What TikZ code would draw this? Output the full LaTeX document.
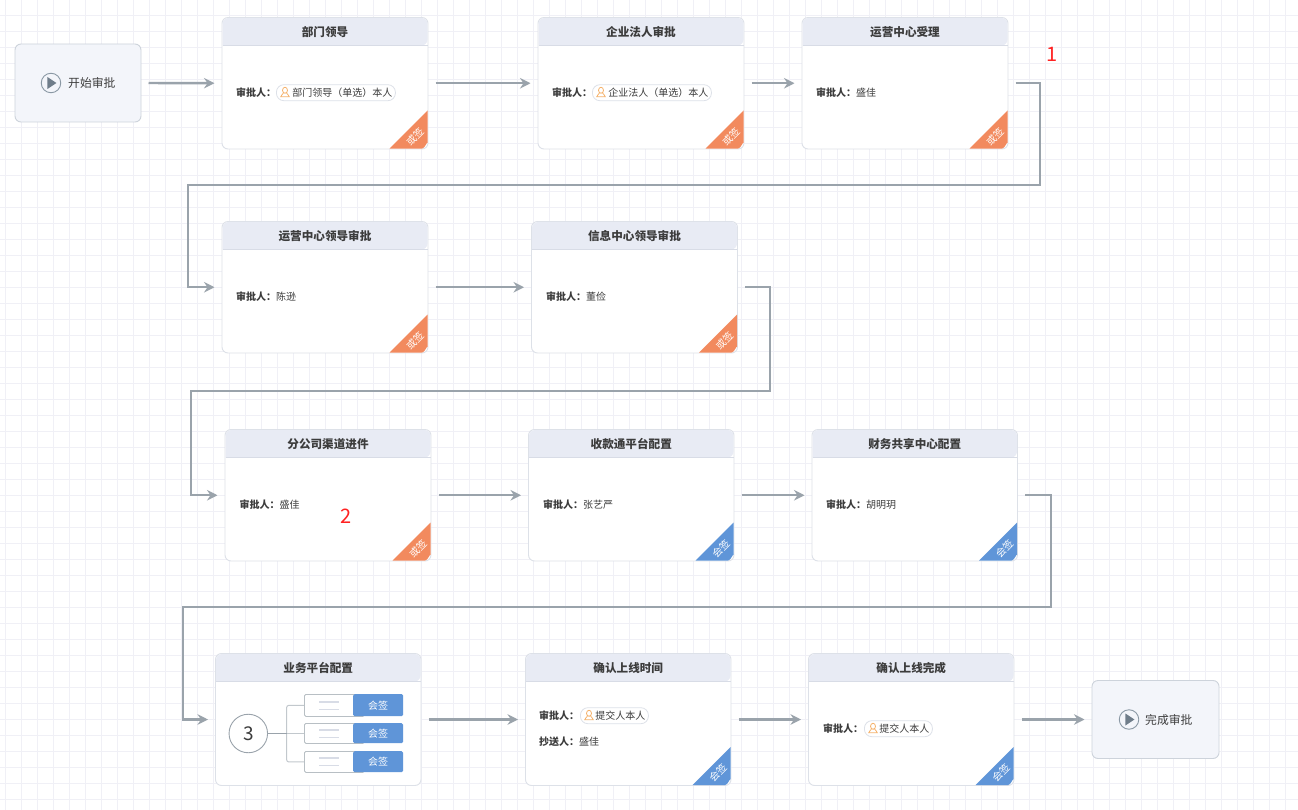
\documentclass[tikz,border=0pt]{standalone}
\usepackage{fontspec}
\setmainfont{Noto Sans CJK SC}
\usetikzlibrary{arrows.meta,calc}
\definecolor{gridc}{HTML}{F0F0F6}
\definecolor{flowc}{HTML}{9AA3AB}
\definecolor{cardb}{HTML}{DDE1E8}
\definecolor{hdrc}{HTML}{E8EBF4}
\definecolor{hdrl}{HTML}{D8DCE6}
\definecolor{txtc}{HTML}{3C3C3C}
\definecolor{orc}{HTML}{F28A5E}
\definecolor{bluc}{HTML}{5F95D8}
\definecolor{stc}{HTML}{F3F5FA}
\definecolor{stb}{HTML}{CDD3DB}
\definecolor{pers}{HTML}{F5B26B}
\definecolor{iconc}{HTML}{8A98A4}
\definecolor{icond}{HTML}{6F7D8A}
\definecolor{redc}{HTML}{FF2222}
\newcommand{\fs}[1]{\fontsize{#1}{#1}\selectfont}
\tikzset{
  gridline/.style={gridc,line width=0.9pt},
  flow/.style={flowc,line width=2.4pt,shorten <=7.5pt,shorten >=7.5pt,miter limit=10,-{Stealth[length=10.5pt,width=10.5pt,inset=3.5pt]}},
  cardbox/.style={draw=cardb,fill=white,line width=0.95pt,rounded corners=6pt,anchor=north west,inner sep=0pt,outer sep=0pt},
  cardtitle/.style={text=txtc,font=\fs{11.6}\bfseries,inner sep=0pt},
  lab/.style={text=txtc,font=\fs{10}\bfseries,anchor=west,inner sep=0pt},
  val/.style={text=txtc,font=\fs{10},anchor=west,inner sep=0pt},
  pillbox/.style={draw=cardb,fill=white,line width=0.8pt,rounded corners=7.5pt,anchor=west,text=txtc,font=\fs{10},minimum height=16pt,inner ysep=0pt,inner xsep=0pt},
  startbox/.style={draw=stb,fill=stc,line width=0.9pt,rounded corners=6pt,anchor=north west,inner sep=0pt,outer sep=0pt},
  signt/.style={text=white,font=\fs{10},rotate=45,inner sep=0pt},
  redlab/.style={text=redc,font=\fs{20},inner sep=0pt},
  stag/.style={fill=bluc,text=white,font=\fs{10},anchor=north west,inner sep=0pt,rounded corners=1.5pt},
  sbody/.style={draw=flowc!70,fill=white,line width=0.8pt,anchor=north west,inner sep=0pt,rounded corners=1.5pt},
  brk/.style={draw=flowc!60,line width=1pt},
}
\newcommand{\cardbase}[6]{% name x y w h title
  \node[cardbox,minimum width=#4pt,minimum height=#5pt] (#1) at (#2,#3) {};
  \pgfmathsetmacro{\xa}{#2}\pgfmathsetmacro{\xb}{#2+#4}
  \pgfmathsetmacro{\ya}{#3}\pgfmathsetmacro{\yb}{#3+28}\pgfmathsetmacro{\yc}{#3+#5}
  \fill[hdrc,rounded corners=6pt] (\xa+.5,\yb) -- (\xa+.5,\ya+.5) -- (\xb-.5,\ya+.5) -- (\xb-.5,\yb) [sharp corners] -- cycle;
  \draw[hdrl,line width=1pt] (\xa+.5,\yb) -- (\xb-.5,\yb);
  \node[cardtitle] (#1t) at ($(\xa,\ya+14.6)!.5!(\xb,\ya+14.6)$) {#6};
}
\newcommand{\card}[8]{% name x y w h title sign color
  \cardbase{#1}{#2}{#3}{#4}{#5}{#6}
  \fill[#8] (\xb-38.5,\yc-.4) -- (\xb-6,\yc-.4) to[out=0,in=90] (\xb-.4,\yc-6) -- (\xb-.4,\yc-38.5) -- cycle;
  \node[signt] (#1s) at (\xb-13,\yc-12.5) {#7};
}
\newcommand{\person}[2]{%
  \draw[pers,line width=.8pt,fill=white] (#1,#2-2.2) ellipse (2.5 and 3);
  \draw[pers,line width=.8pt] (#1-1.6,#2+.6) .. controls (#1-2,#2+2) and (#1-4.2,#2+2.5) .. (#1-4.2,#2+4.2) -- (#1+4.2,#2+4.2) .. controls (#1+4.2,#2+2.5) and (#1+2,#2+2) .. (#1+1.6,#2+.6);
}
\newcommand{\play}[3]{%
  \node[draw=iconc,fill=none,line width=.9pt,circle,minimum size=19.5pt,inner sep=0pt] (#1) at (#2,#3) {};
  \fill[icond] (#2-3.6,#3-6) -- (#2+5.4,#3) -- (#2-3.6,#3+6) -- cycle;
}
\newcommand{\subbox}[4]{% name y h liney
  \node[sbody,minimum width=60pt,minimum height=#3pt] (#1) at (304,#2) {};
  \node[stag,minimum width=50pt,minimum height=#3pt] (#1t) at (353,#2) {会签};
  \draw[hdrl,line width=1.3pt] (319,#4) -- (339,#4);
  \draw[hdrl,line width=1.3pt] (319,#4+7.3) -- (339,#4+7.3);
}
\begin{document}
\begin{tikzpicture}[x=1pt,y=-1pt]
\useasboundingbox (0,0) rectangle (1298,810);
\fill[white] (0,0) rectangle (1298,810);
\foreach \i in {0,...,81} {\draw[gridline] (5.5+16*\i,0) -- (5.5+16*\i,810);}
\foreach \i in {0,...,50} {\draw[gridline] (0,15.5+16*\i) -- (1298,15.5+16*\i);}

% start / end
\node[startbox,minimum width=126pt,minimum height=78pt] (start) at (15,44) {};
\play{starti}{51}{83}
\node[val,font=\fs{11.8}] (startt) at (68,83.5) {开始审批};
\node[startbox,minimum width=127pt,minimum height=78pt] (end) at (1092,680.5) {};
\play{endi}{1129}{719.5}
\node[val,font=\fs{11.8}] (endt) at (1145,720) {完成审批};

% cards
\card{c1}{222}{17.5}{206}{131.5}{部门领导}{或签}{orc}
\card{c2}{538}{17.5}{206}{131.5}{企业法人审批}{或签}{orc}
\card{c3}{802}{17.5}{206}{131.5}{运营中心受理}{或签}{orc}
\card{c4}{222}{221.5}{206}{131.5}{运营中心领导审批}{或签}{orc}
\card{c5}{531.5}{221.5}{206}{131.5}{信息中心领导审批}{或签}{orc}
\card{c6}{225}{429.5}{206}{131.5}{分公司渠道进件}{或签}{orc}
\card{c7}{528.5}{429.5}{205.5}{131.5}{收款通平台配置}{会签}{bluc}
\card{c8}{812}{429.5}{205.5}{131.5}{财务共享中心配置}{会签}{bluc}
\cardbase{c9}{215.5}{653.5}{205.5}{132}{业务平台配置}
\card{c10}{525.5}{653.5}{205.5}{132}{确认上线时间}{会签}{bluc}
\card{c11}{808.5}{653.5}{205.5}{132}{确认上线完成}{会签}{bluc}

% approvers
\node[lab] (l1) at (236,92.7) {审批人：};
\node[pillbox,minimum width=119pt] (p1) at (276,92.7) {\hspace*{16pt}部门领导（单选）本人\hspace*{3pt}};
\person{285}{92.5}
\node[lab] (l2) at (552,92.7) {审批人：};
\node[pillbox,minimum width=119pt] (p2) at (592,92.7) {\hspace*{16pt}企业法人（单选）本人\hspace*{3pt}};
\person{601}{92.5}
\node[lab] (l3) at (816,92.7) {审批人：};
\node[val] (v3) at (856,92.7) {盛佳};
\node[lab] (l4) at (236,296.7) {审批人：};
\node[val] (v4) at (276,296.7) {陈逊};
\node[lab] (l5) at (546,296.7) {审批人：};
\node[val] (v5) at (586,296.7) {董俭};
\node[lab] (l6) at (239.5,504.7) {审批人：};
\node[val] (v6) at (279.5,504.7) {盛佳};
\node[lab] (l7) at (543,504.7) {审批人：};
\node[val] (v7) at (583,504.7) {张艺严};
\node[lab] (l8) at (826,504.7) {审批人：};
\node[val] (v8) at (866,504.7) {胡明玥};
\node[lab] (l10) at (539,715.7) {审批人：};
\node[pillbox,minimum width=68pt] (p10) at (580,715.7) {\hspace*{15pt}提交人本人\hspace*{3pt}};
\person{589}{715.5}
\node[lab] (l10b) at (539,741.7) {抄送人：};
\node[val] (v10b) at (579,741.7) {盛佳};
\node[lab] (l11) at (823,728.7) {审批人：};
\node[pillbox,minimum width=68pt] (p11) at (864,728.7) {\hspace*{15pt}提交人本人\hspace*{3pt}};
\person{873}{728.5}

% card 9 content
\subbox{s1}{694}{22}{702}
\subbox{s2}{723}{20}{730}
\subbox{s3}{751}{21}{758}
\node[draw=flowc,line width=.9pt,fill=white,circle,minimum size=38.5pt,inner sep=0pt,text=txtc,font=\fs{19}] (n3) at (248.3,733.5) {3};
\coordinate (jn) at (286.7,733.5);
\draw[brk,rounded corners=2pt] (s1.west) -| (jn) |- (s3.west);
\draw[brk] (jn) -- (s2.west |- jn);
\draw[flowc,line width=1.4pt] (n3.east) -- (jn);

% red labels
\node[redlab] (r1) at (1052.5,54.5) {1};
\node[redlab] (r2) at (346,516.5) {2};

% connectors
\draw[flow] (start.east) -- (c1.west);
\draw[flow] (c1.east) -- (c2.west);
\draw[flow] (c2.east) -- (c3.west);
\coordinate (b1) at (1040,185);
\coordinate (b2) at (188,185);
\draw[flow] (c3.east) -| (b1) -- (b2) |- (c4.west);
\draw[flow] (c4.east) -- (c5.west);
\coordinate (b3) at (770,391);
\coordinate (b4) at (191,391);
\draw[flow] (c5.east) -| (b3) -- (b4) |- (c6.west);
\draw[flow] (c6.east) -- (c7.west);
\draw[flow] (c7.east) -- (c8.west);
\coordinate (b5) at (1051,607);
\coordinate (b6) at (183,607);
\draw[flow] (c8.east) -| (b5) -- (b6) |- (c9.west);
\draw[flow] (c9.east) -- (c10.west);
\draw[flow] (c10.east) -- (c11.west);
\draw[flow] (c11.east) -- (end.west);
\end{tikzpicture}
\end{document}
